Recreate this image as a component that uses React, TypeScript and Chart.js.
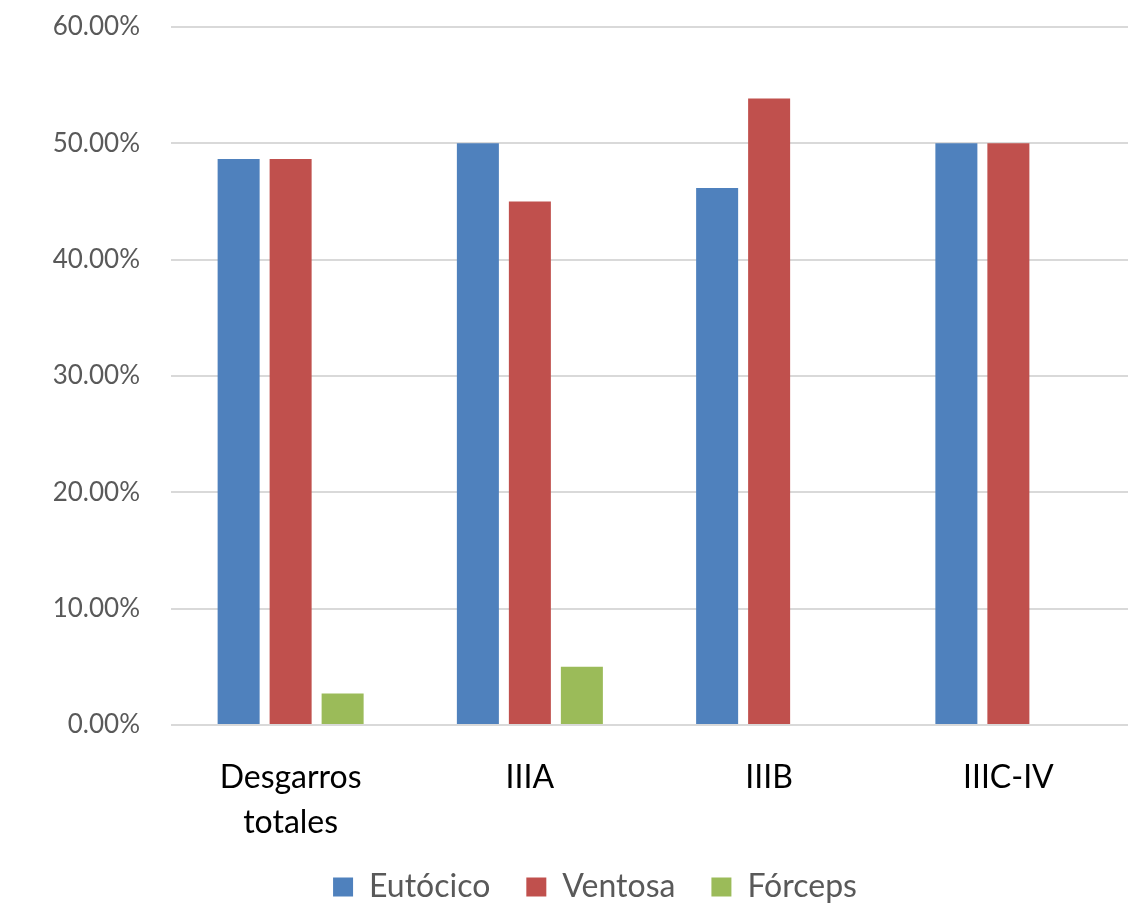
import React, { useEffect, useRef } from "react";
import { Chart, registerables } from "chart.js";

Chart.register(...registerables);

const categories: (string | string[])[] = [["Desgarros", "totales"], "IIIA", "IIIB", "IIIC-IV"];
const eutocico = [48.65, 50.0, 46.15, 50.0];
const ventosa = [48.65, 45.0, 53.85, 50.0];
const forceps = [2.7, 5.0, 0, 0];
const yTicks = [0, 10, 20, 30, 40, 50, 60];

const legendShift = {
  id: "legendShift",
  afterLayout(chart: any) {
    const l = chart.legend;
    if (l) {
      l.left += 31;
      l.right += 31;
    }
  },
};

export default function App() {
  const ref = useRef<HTMLCanvasElement | null>(null);

  useEffect(() => {
    document.body.style.margin = "0";
    if (!ref.current) return;
    const chart = new Chart(ref.current, {
      type: "bar",
      data: {
        labels: categories,
        datasets: [
          { label: "Eutócico", data: eutocico, backgroundColor: "#4f81bd" },
          { label: "Ventosa", data: ventosa, backgroundColor: "#c0504d" },
          { label: "Fórceps", data: forceps, backgroundColor: "#9bbb59" },
        ],
      },
      plugins: [legendShift],
      options: {
        animation: false,
        responsive: true,
        maintainAspectRatio: false,
        layout: { padding: { left: 0, right: 6, top: 27, bottom: -7 } },
        datasets: {
          bar: { categoryPercentage: 0.652, barPercentage: 0.808 },
        },
        plugins: {
          tooltip: { enabled: false },
          legend: {
            position: "bottom",
            labels: {
              boxWidth: 20,
              boxHeight: 19,
              padding: 36,
              color: "#595959",
              font: { family: "Lato, sans-serif", size: 32 },
            },
          },
        },
        scales: {
          x: {
            grid: { display: false, drawTicks: false },
            border: { display: false },
            ticks: {
              color: "#000000",
              padding: 30,
              maxRotation: 0,
              font: { family: "Lato, sans-serif", size: 32, lineHeight: 1.4 },
            },
            afterFit: (scale: any) => {
              scale.height = 110;
            },
          },
          y: {
            min: 0,
            max: 60,
            afterBuildTicks: (scale: any) => {
              scale.ticks = yTicks.map((v) => ({ value: v }));
            },
            grid: {
              color: "#d9d9d9",
              lineWidth: 2,
              drawTicks: true,
              tickLength: 31,
              tickColor: "rgba(0,0,0,0)",
            },
            border: { display: false },
            ticks: {
              color: "#595959",
              padding: 0,
              font: { family: "Lato, sans-serif", size: 26 },
              callback: (v: any) => Number(v).toFixed(2) + "%",
            },
            afterFit: (scale: any) => {
              scale.width = 171;
            },
          },
        },
      },
    });
    return () => chart.destroy();
  }, []);

  return (
    <div style={{ width: 1134, height: 906, position: "relative" }}>
      <canvas ref={ref} />
    </div>
  );
}
